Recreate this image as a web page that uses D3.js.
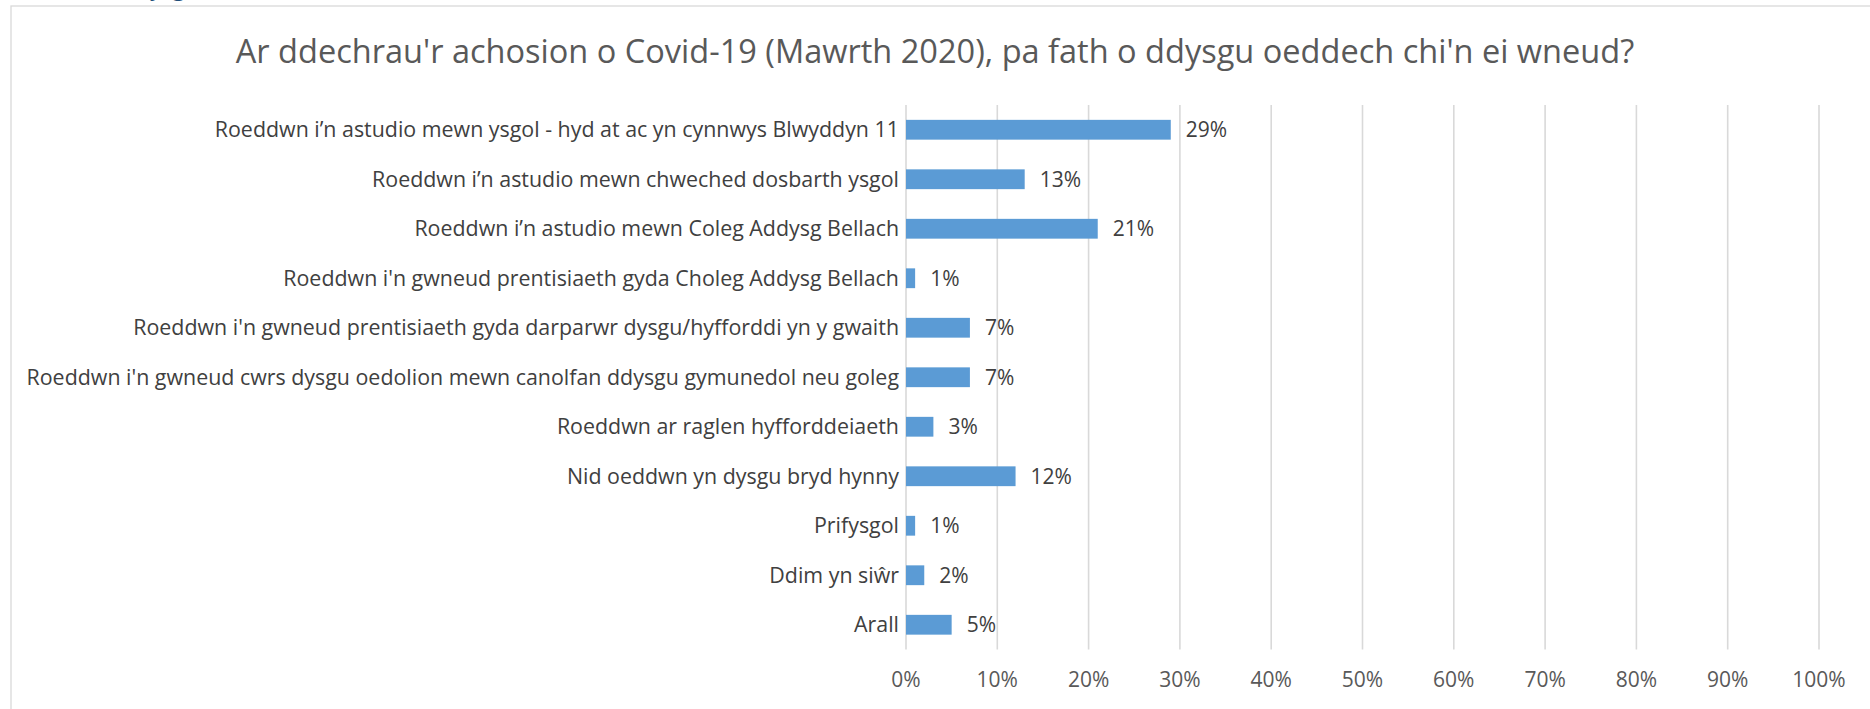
<!DOCTYPE html>
<html>
<head>
<meta charset="utf-8">
<script src="https://cdn.jsdelivr.net/npm/d3@7"></script>
<style>
  html, body { margin: 0; padding: 0; background: #ffffff; }
  svg { display: block; }
  text { font-family: "Open Sans", "Noto Sans", sans-serif; }
</style>
</head>
<body>
<svg id="chart" width="1870" height="709"></svg>
<script>
const title = "Ar ddechrau'r achosion o Covid-19 (Mawrth 2020), pa fath o ddysgu oeddech chi'n ei wneud?";
const categories = [
  "Roeddwn i’n astudio mewn ysgol - hyd at ac yn cynnwys Blwyddyn 11",
  "Roeddwn i’n astudio mewn chweched dosbarth ysgol",
  "Roeddwn i’n astudio mewn Coleg Addysg Bellach",
  "Roeddwn i'n gwneud prentisiaeth gyda Choleg Addysg Bellach",
  "Roeddwn i'n gwneud prentisiaeth gyda darparwr dysgu/hyfforddi yn y gwaith",
  "Roeddwn i'n gwneud cwrs dysgu oedolion mewn canolfan ddysgu gymunedol neu goleg",
  "Roeddwn ar raglen hyfforddeiaeth",
  "Nid oeddwn yn dysgu bryd hynny",
  "Prifysgol",
  "Ddim yn siŵr",
  "Arall"
];
const values = [0.29, 0.13, 0.21, 0.01, 0.07, 0.07, 0.03, 0.12, 0.01, 0.02, 0.05];
const tickValues = [0, 0.1, 0.2, 0.3, 0.4, 0.5, 0.6, 0.7, 0.8, 0.9, 1.0];

const svg = d3.select("#chart");
const fmt = d3.format(".0%");

// chart area border (extends beyond the visible picture)
svg.append("rect")
  .attr("x", 11).attr("y", 6)
  .attr("width", 1900).attr("height", 800)
  .attr("fill", "none").attr("stroke", "#d9d9d9").attr("stroke-width", 1.3);

// cut-off heading above the chart (only its descenders show, as in the reference)
svg.append("text")
  .attr("x", 134).attr("y", -4)
  .attr("fill", "#1F4E79")
  .attr("font-size", 22).attr("font-weight", 600)
  .text("Dysgu");

const x = d3.scaleLinear().domain([0, 1]).range([906, 1819]);
const y = d3.scaleBand().domain(categories).range([105, 649.5])
  .paddingInner(0.6).paddingOuter(0.3);

// title
const t = svg.append("text")
  .attr("x", 935).attr("y", 62.5)
  .attr("text-anchor", "middle")
  .attr("fill", "#595959")
  .attr("font-size", 30)
  .text(title);
const tw = t.node().getComputedTextLength();
t.attr("font-size", 30 * 1399 / tw);

// gridlines
svg.append("g").selectAll("line")
  .data(tickValues).join("line")
  .attr("x1", d => x(d)).attr("x2", d => x(d))
  .attr("y1", 105).attr("y2", 649.5)
  .attr("stroke", "#d9d9d9").attr("stroke-width", 1.6);

// x axis tick labels
svg.append("g").selectAll("text")
  .data(tickValues).join("text")
  .attr("x", d => x(d)).attr("y", 680)
  .attr("dy", "0.35em")
  .attr("text-anchor", "middle")
  .attr("fill", "#595959")
  .attr("font-size", 21)
  .text(d => fmt(d));

// category labels
const catG = svg.append("g");
const cats = catG.selectAll("text")
  .data(categories).join("text")
  .attr("x", 899)
  .attr("y", d => y(d) + y.bandwidth() / 2)
  .attr("dy", "0.35em")
  .attr("text-anchor", "end")
  .attr("fill", "#404040")
  .attr("font-size", 20)
  .text(d => d);
let maxW = 0;
cats.each(function() { maxW = Math.max(maxW, this.getComputedTextLength()); });
cats.attr("font-size", 20 * 873 / maxW);

// bars
svg.append("g").selectAll("rect")
  .data(values).join("rect")
  .attr("x", x(0))
  .attr("y", (d, i) => y(categories[i]))
  .attr("width", d => x(d) - x(0))
  .attr("height", y.bandwidth())
  .attr("fill", "#5B9BD5");

// value labels
svg.append("g").selectAll("text")
  .data(values).join("text")
  .attr("x", d => x(d) + 15)
  .attr("y", (d, i) => y(categories[i]) + y.bandwidth() / 2)
  .attr("dy", "0.35em")
  .attr("fill", "#404040")
  .attr("font-size", 21)
  .text(d => fmt(d));
</script>
</body>
</html>
